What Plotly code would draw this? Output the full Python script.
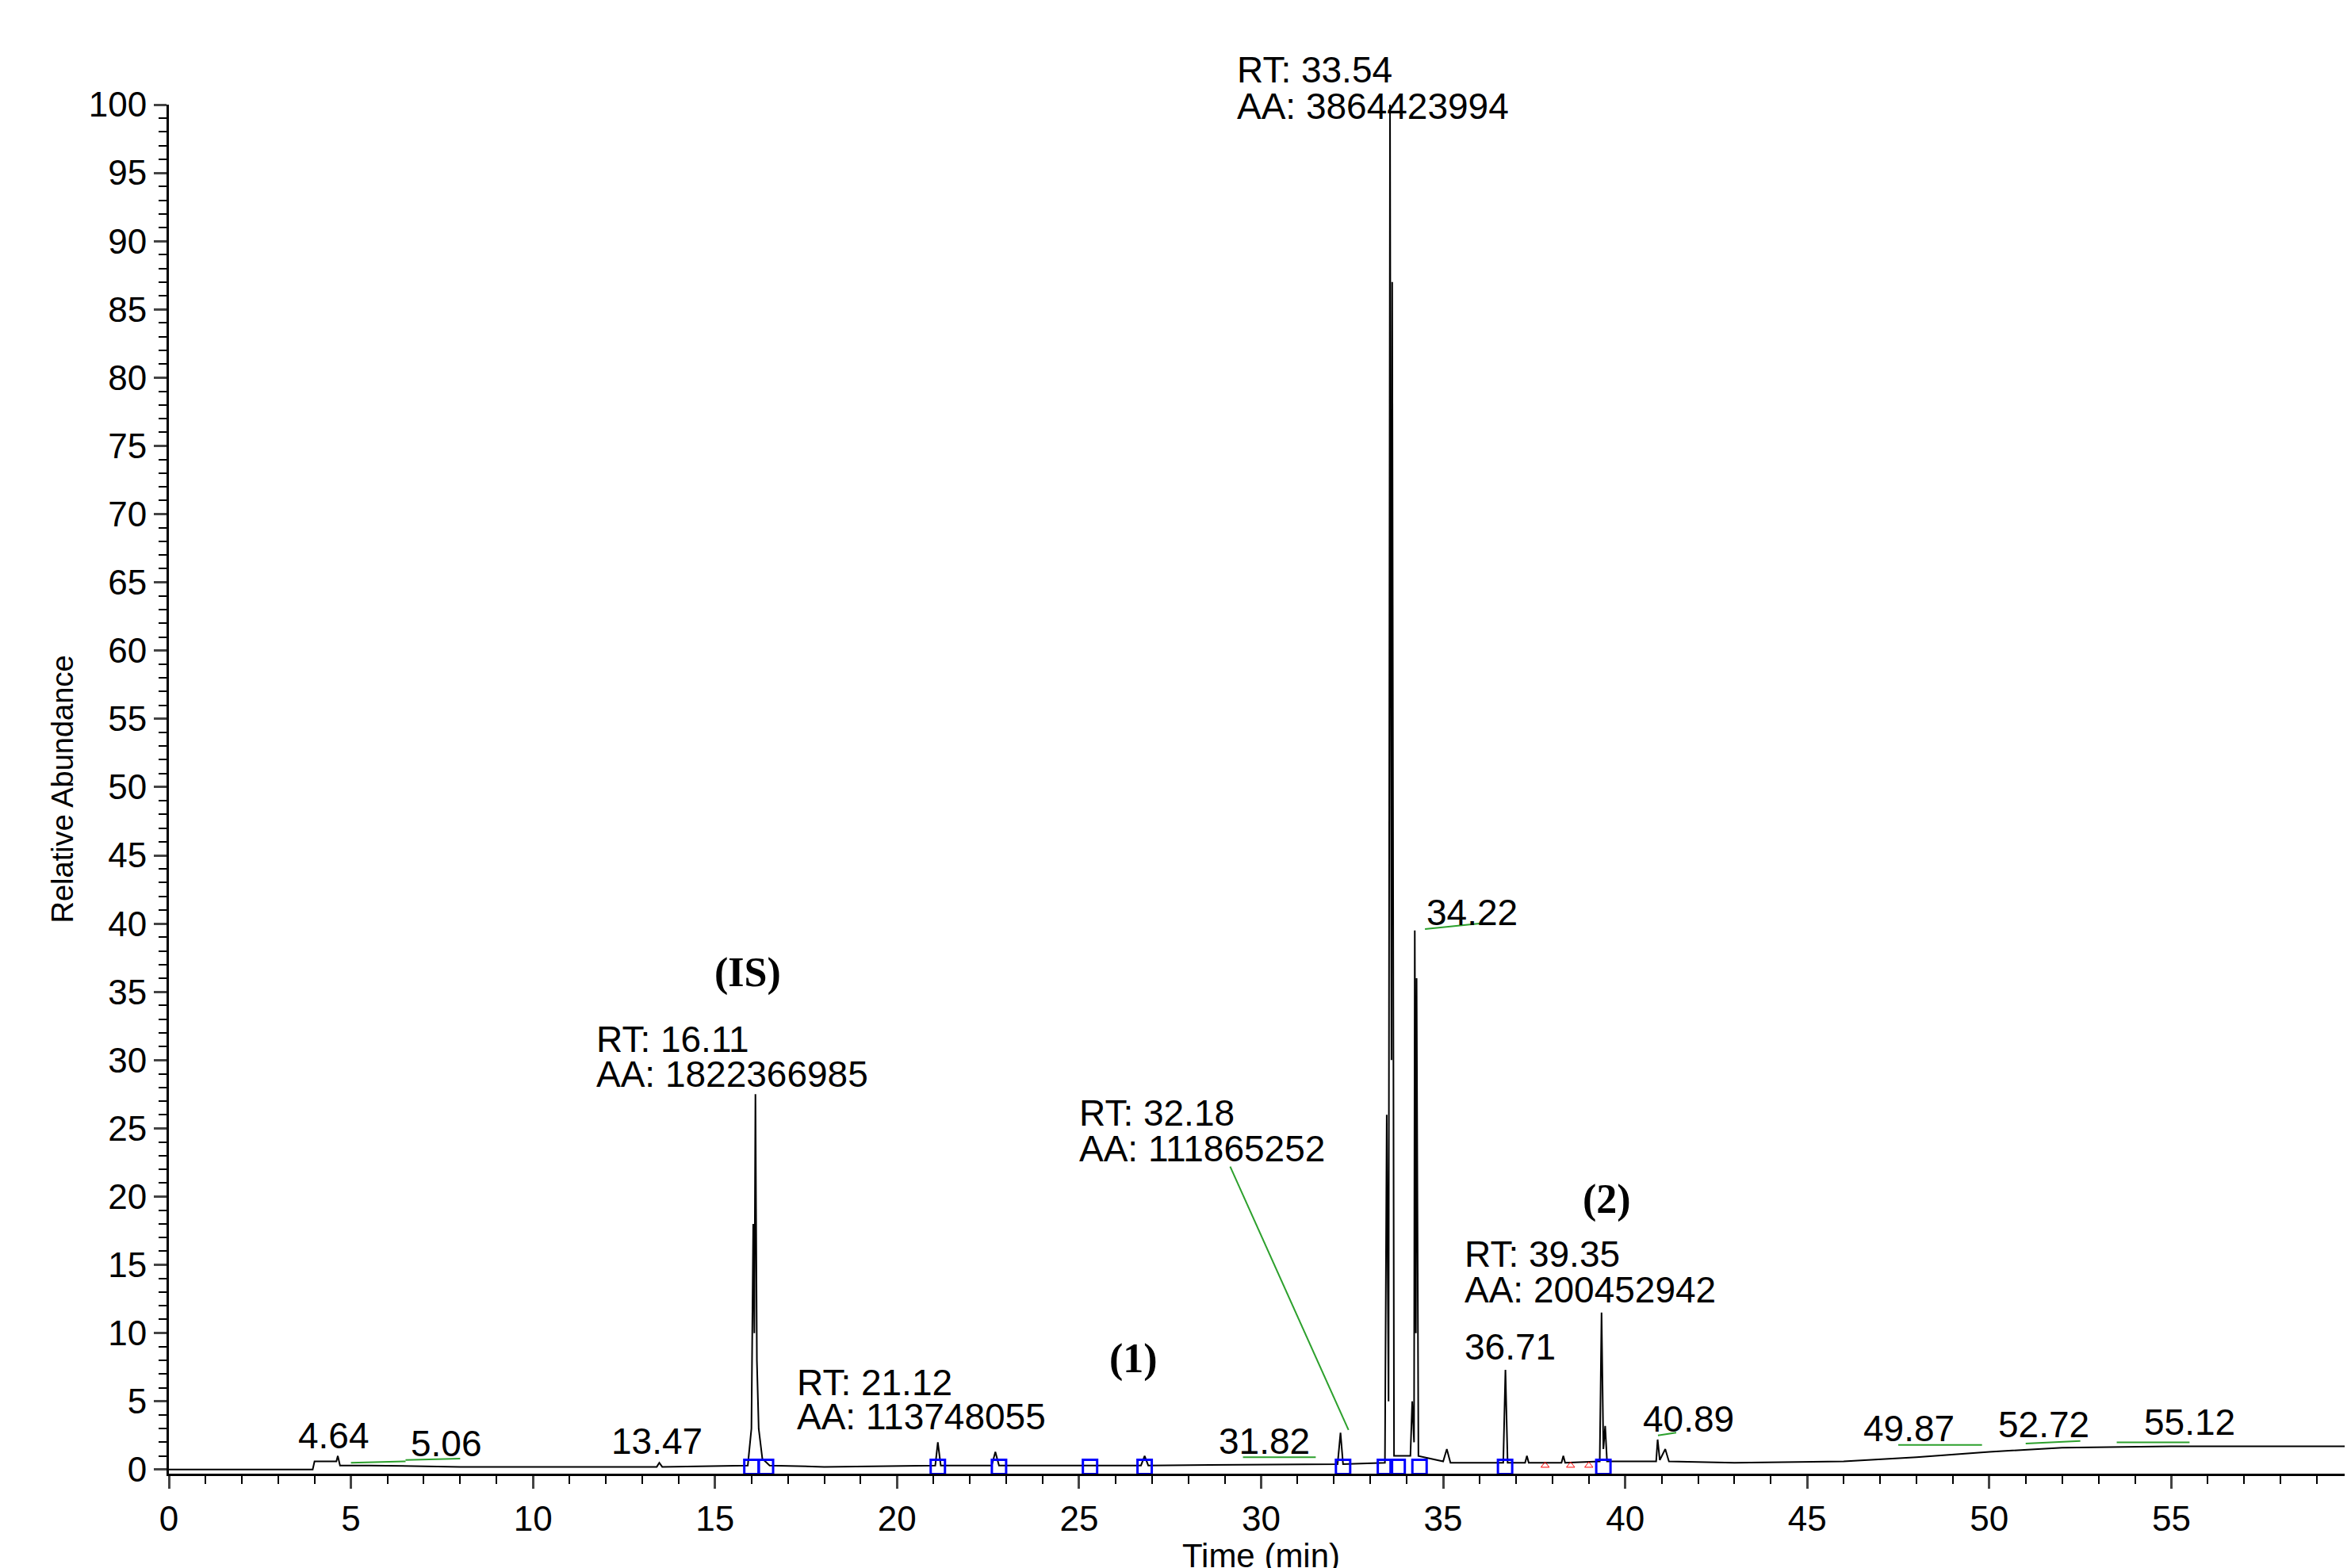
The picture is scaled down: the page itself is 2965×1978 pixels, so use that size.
import plotly.graph_objects as go

# chromatogram trace (time in min, relative abundance %)
time_min = [0.0, 3.95, 4.0, 4.6, 4.64, 4.7, 5.5, 7.0, 8.0, 12.0, 13.4, 13.47, 13.55, 15.9, 16.0, 16.05, 16.08,
            16.11, 16.15, 16.2, 16.3, 16.5, 18.0, 21.05, 21.12, 21.2, 22.6, 22.7, 22.8, 26.7, 26.8, 26.9,
            32.1, 32.18, 32.25, 33.4, 33.45, 33.5, 33.54, 33.58, 33.6, 33.65, 34.1, 34.15, 34.2, 34.22,
            34.25, 34.27, 34.32, 35.0, 35.1, 35.2, 36.65, 36.71, 36.77, 37.25, 37.3, 37.35, 38.25, 38.3,
            38.35, 39.3, 39.35, 39.4, 39.45, 39.5, 40.85, 40.89, 40.95, 41.1, 41.2, 43.0, 46.0, 48.0,
            50.0, 52.0, 55.0, 58.0, 60.0]
abundance = [0.0, 0.0, 0.6, 0.6, 1.0, 0.3, 0.3, 0.25, 0.2, 0.2, 0.2, 0.5, 0.2, 0.3, 3.0, 18.0, 10.0,
             27.5, 8.0, 3.0, 0.8, 0.3, 0.2, 0.3, 2.0, 0.3, 0.3, 1.3, 0.3, 0.3, 1.0, 0.3,
             0.4, 2.7, 0.4, 0.5, 26.0, 5.0, 100.0, 30.0, 87.0, 1.0, 1.0, 5.0, 2.0, 39.5,
             10.0, 36.0, 1.0, 0.6, 1.5, 0.5, 0.5, 7.3, 0.5, 0.5, 1.0, 0.5, 0.5, 1.0,
             0.5, 0.6, 11.5, 1.5, 3.2, 0.6, 0.6, 2.2, 0.7, 1.5, 0.6, 0.5, 0.6, 0.9,
             1.3, 1.6, 1.7, 1.7, 1.7]

# peak labels
label_x = [29.3, 29.3, 34.5, 15.9, 11.7, 11.7, 24.95, 24.95, 39.5, 35.55, 35.55, 35.55, 40.45, 26.5,
           17.2, 17.2, 3.5, 6.6, 12.1, 28.8, 46.5, 50.2, 54.2]
label_y = [104.2, 101.5, 40.8, 36.4, 31.5, 29.0, 26.1, 23.5, 19.8, 15.8, 13.2, 9.0, 3.7, 8.1,
           6.4, 3.9, 2.5, 1.9, 2.1, 2.1, 3.0, 3.3, 3.5]
label_text = ["RT: 33.54", "AA: 3864423994", "34.22", "(IS)", "RT: 16.11", "AA: 1822366985",
              "RT: 32.18", "AA: 111865252", "(2)", "RT: 39.35", "AA: 200452942", "36.71", "40.89", "(1)",
              "RT: 21.12", "AA: 113748055", "4.64", "5.06", "13.47", "31.82", "49.87", "52.72", "55.12"]

# integration markers
blue_x = [16.0, 16.4, 21.12, 22.8, 25.3, 26.8, 32.25, 33.4, 33.75, 34.35, 36.7, 39.4]
red_x = [37.8, 38.5, 39.0]

# green leader lines (x0, y0, x1, y1)
green_lines = [(29.15, 22.2, 32.4, 2.9), (34.5, 39.6, 36.0, 40.0), (5.0, 0.5, 6.5, 0.6), (6.5, 0.7, 8.0, 0.8),
               (29.5, 0.9, 31.5, 0.9), (40.9, 2.5, 41.4, 2.7), (47.5, 1.8, 49.8, 1.8), (51.0, 1.9, 52.5, 2.1),
               (53.5, 2.0, 55.5, 2.0)]

Y0, Y1 = -0.3, 100

fig = go.Figure()
fig.add_trace(go.Scatter(x=time_min, y=abundance, mode="lines", line=dict(color="black", width=2),
                         hoverinfo="skip", showlegend=False))
fig.add_trace(go.Scatter(x=blue_x, y=[0.2] * len(blue_x), mode="markers",
                         marker=dict(symbol="square-open", color="blue", size=18, line=dict(width=3)),
                         showlegend=False, cliponaxis=False))
fig.add_trace(go.Scatter(x=red_x, y=[0.3] * len(red_x), mode="markers",
                         marker=dict(symbol="triangle-up-open", color="red", size=9), showlegend=False))

shapes = [dict(type="line", x0=a, y0=b, x1=c, y1=d, line=dict(color="#2ca02c", width=2))
          for a, b, c, d in green_lines]

annotations = []
for x, y, t in zip(label_x, label_y, label_text):
    if t.startswith("("):
        annotations.append(dict(x=x, y=y, text="<b>" + t + "</b>", showarrow=False, xanchor="center",
                                font=dict(family="Liberation Serif", size=52, color="black")))
    else:
        a = dict(x=x, y=y, text=t, showarrow=False, xanchor="left",
                 font=dict(family="Liberation Sans", size=46, color="black"))
        if y > Y1:
            a["yref"] = "y domain"
            a["y"] = (y - Y0) / (Y1 - Y0)
        annotations.append(a)

fig.update_layout(
    width=2965, height=1978, plot_bgcolor="white", paper_bgcolor="white",
    margin=dict(l=205, r=5, t=124, b=127),
    shapes=shapes, annotations=annotations,
    font=dict(family="Liberation Sans", color="black"),
    xaxis=dict(range=[0, 60], dtick=5, tickfont=dict(size=44), ticks="outside", ticklen=16, tickwidth=3,
               showline=True, linecolor="black", linewidth=3, showgrid=False, zeroline=False,
               minor=dict(dtick=1, ticks="outside", ticklen=10, tickwidth=2, tickcolor="black"),
               title=dict(text="Time (min)", font=dict(size=42), standoff=5)),
    yaxis=dict(range=[Y0, Y1], dtick=5, tickfont=dict(size=44), ticks="outside", ticklen=16, tickwidth=3,
               showline=True, linecolor="black", linewidth=3, showgrid=False, zeroline=False,
               minor=dict(dtick=1, ticks="outside", ticklen=10, tickwidth=2, tickcolor="black"),
               title=dict(text="Relative Abundance", font=dict(size=38), standoff=8)),
)
fig.write_html("out.html")
